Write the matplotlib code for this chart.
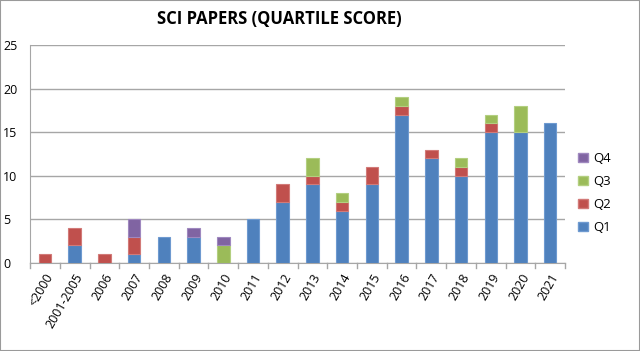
import matplotlib

matplotlib.use("Agg")
import matplotlib.pyplot as plt
import numpy as np
from matplotlib.patches import Patch, Rectangle

# 数据
categories = ["<2000", "2001-2005", "2006", "2007", "2008", "2009", "2010",
              "2011", "2012", "2013", "2014", "2015", "2016", "2017", "2018",
              "2019", "2020", "2021"]
q1 = [0, 2, 0, 1, 3, 3, 0, 5, 7, 9, 6, 9, 17, 12, 10, 15, 15, 16]
q2 = [1, 2, 1, 2, 0, 0, 0, 0, 2, 1, 1, 2, 1, 1, 1, 1, 0, 0]
q3 = [0, 0, 0, 0, 0, 0, 2, 0, 0, 2, 1, 0, 1, 0, 1, 1, 3, 0]
q4 = [0, 0, 0, 2, 0, 1, 1, 0, 0, 0, 0, 0, 0, 0, 0, 0, 0, 0]
series_names = ["Q1", "Q2", "Q3", "Q4"]
y_ticks = [0, 5, 10, 15, 20, 25]

colors = ["#4F81BD", "#C0504D", "#9BBB59", "#8064A2"]
edge_colors = ["#6E9AD0", "#D27A78", "#B3CF80", "#9F88BF"]

plt.rcParams["font.family"] = ["Open Sans", "DejaVu Sans"]

fig = plt.figure(figsize=(6.4, 3.51), dpi=100)
ax = fig.add_axes([0.047, 0.251, 0.836, 0.621])

x = np.arange(len(categories))
bottom = np.zeros(len(categories))
for vals, name, c, ec in zip([q1, q2, q3, q4], series_names, colors, edge_colors):
    vals = np.array(vals, dtype=float)
    keep = vals > 0  # 零值不画，避免出现细线
    ax.bar(x[keep], vals[keep], width=0.42, bottom=bottom[keep], color=c,
           edgecolor=ec, linewidth=0.8, label=name, zorder=3)
    bottom += vals

ax.set_xlim(-0.5, len(categories) - 0.5)
ax.set_ylim(0, 25)
ax.set_yticks(y_ticks)
ax.set_yticklabels([str(t) for t in y_ticks], fontsize=9, ha="left")
ax.tick_params(axis="y", length=0, pad=19.5)
ax.yaxis.grid(True, color="#A6A6A6", linewidth=1.0, zorder=0)

# Excel 风格的类别边界刻度
ax.set_xticks(x)
ax.set_xticklabels(categories, rotation=60, ha="right", va="top",
                   rotation_mode="anchor", fontsize=9)
ax.tick_params(axis="x", length=0, pad=6)
for b in np.arange(-0.5, len(categories), 1.0):
    ax.plot([b, b], [0, -0.022], transform=ax.get_xaxis_transform(),
            color="#A6A6A6", linewidth=1.0, clip_on=False)

for side in ["top", "right"]:
    ax.spines[side].set_visible(False)
ax.spines["left"].set_color("#A6A6A6")
ax.spines["bottom"].set_color("#A6A6A6")
ax.spines["left"].set_zorder(4)

fig.text(0.436, 0.945, "SCI PAPERS (QUARTILE SCORE)", ha="center", va="center",
         fontsize=12, fontweight="bold")

handles = [Patch(facecolor=c, edgecolor=ec, label=n)
           for c, ec, n in zip(colors, edge_colors, series_names)][::-1]
fig.legend(handles=handles, loc="center left", bbox_to_anchor=(0.885, 0.45),
           frameon=False, fontsize=9.5, handlelength=0.7, handleheight=0.7,
           handletextpad=0.4, labelspacing=0.75)

# 外框
fig.patches.append(Rectangle((0, 0), 1, 1, transform=fig.transFigure,
                             fill=False, edgecolor="#9A9A9A", linewidth=1.5))

fig.savefig("out.png", dpi=100)
plt.close(fig)
